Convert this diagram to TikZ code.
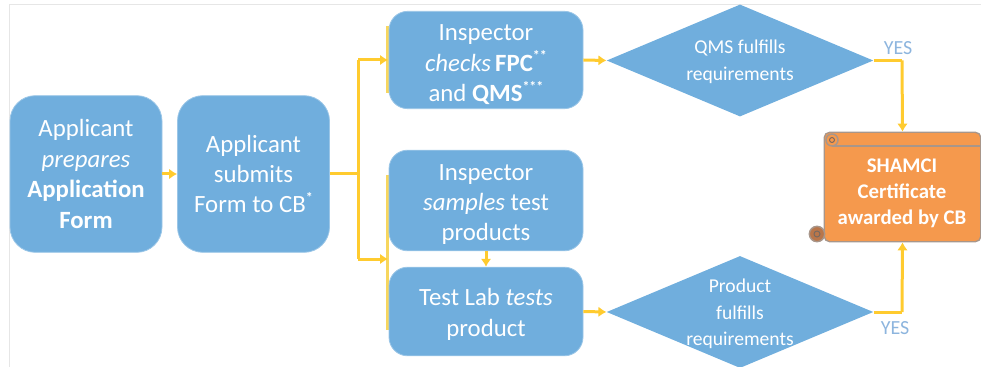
\documentclass[tikz,border=0pt]{standalone}
\usepackage{fontspec}
\setmainfont{Carlito}
\usetikzlibrary{shapes.geometric,arrows.meta}
\definecolor{boxblue}{HTML}{70AEDD}
\definecolor{flowyellow}{HTML}{FFCB2F}
\definecolor{baryellow}{HTML}{F7D65E}
\definecolor{certorange}{HTML}{F5994D}
\definecolor{certedge}{HTML}{A8968A}
\definecolor{curlfill}{HTML}{B9764A}
\definecolor{yesblue}{HTML}{8DB5DE}
\definecolor{framegrey}{HTML}{E6E6E6}
\newcommand{\stars}[1]{\raisebox{0.42em}{\fontsize{10.5}{10}\selectfont\textbf{#1}}}
\newcommand{\topgap}[1]{\rule{0pt}{#1}}
\tikzset{
  bluebox/.style={draw=boxblue!70!white,line width=0.6pt,fill=boxblue,text=white,align=center,inner sep=0pt,anchor=center,
    font=\fontsize{18.6}{22.8}\selectfont},
  bigbox/.style={bluebox,minimum width=114pt,minimum height=117.5pt,rounded corners=19pt},
  midbox/.style={bluebox,minimum width=145.5pt,rounded corners=14pt},
  decision/.style={diamond,aspect=2.37,fill=boxblue,inner sep=0pt,minimum width=200pt,minimum height=84pt},
  decisiontext/.style={text=white,align=center,inner sep=0pt,font=\fontsize{14.7}{20}\selectfont},
  flow/.style={flowyellow,line width=2.25pt,-{Latex[length=6pt,width=8pt]}},
  flowplain/.style={flowyellow,line width=2.25pt},
  bar/.style={baryellow,line width=2.2pt},
  yes/.style={text=yesblue,inner sep=0pt,font=\fontsize{15}{16}\selectfont},
  certlabel/.style={text=white,align=center,inner sep=0pt,font=\bfseries\fontsize{15.6}{19.5}\selectfont},
  curlring/.style={certedge!70!black,line width=0.7pt},
}
\begin{document}
\begin{tikzpicture}[x=0.75pt,y=-0.75pt]
\useasboundingbox (0,0) rectangle (981,367);
\draw[framegrey,line width=0.6pt] (9,4) -- (981,4);
\draw[framegrey,line width=0.6pt] (9,4) -- (9,367);
% junction points and bars
\coordinate (j) at (358,174);
\coordinate (jt) at (358,60);
\coordinate (jb) at (358,259);
\coordinate (lowin) at (388,259);
\coordinate (upin) at (388,60);
\coordinate (b1a) at (387.5,26);
\coordinate (b1b) at (387.5,93);
\coordinate (b2a) at (387.5,175);
\coordinate (b2b) at (387.5,330);
\coordinate (yt) at (902,60.5);
\coordinate (yb) at (902,312);
\draw[bar] (b1a) -- (b1b);
\draw[bar] (b2a) -- (b2b);
% boxes
\node[bigbox] (A) at (86,174) {Applicant\\\textit{prepares}\\\textbf{Application}\\\textbf{Form}};
\node[bigbox] (B) at (253.5,174) {Applicant\\submits\\Form to CB\stars{*}};
\node[midbox,minimum height=73pt] (C) at (486,60) {\topgap{19pt}Inspector\\\textit{checks}\,\textbf{FPC}\stars{**}\\and \textbf{QMS}\stars{***}};
\node[midbox,minimum height=75.5pt] (D) at (486,200.5) {\topgap{18pt}Inspector\\\textit{samples} test\\products};
\node[midbox,minimum height=66.5pt] (E) at (486,311.5) {\topgap{17pt}Test Lab \textit{tests}\\product};
% decisions
\node[decision] (Q) at (740,60.5) {};
\node[decisiontext] (Qtext) at (740,61.5) {QMS fulfills\\requirements};
\node[decision] (P) at (740,312) {};
\node[decisiontext] (Ptext) at (740,314) {Product\\fulfills\\requirements};
% certificate
\node[draw=certedge,line width=1pt,fill=certorange,rounded corners=4pt,inner sep=0pt,
  minimum width=117.5pt,minimum height=82pt] (cert) at (902.5,187) {};
\node[certlabel] (certtext) at (902,193) {SHAMCI\\Certificate\\awarded by CB};
\coordinate (certtopa) at (832,146);
\coordinate (certtopb) at (981,146);
\draw[certedge,line width=1.1pt] (certtopa) -- (certtopb);
\node[circle,draw=certedge,fill=certorange,line width=1.1pt,minimum size=9pt,inner sep=0pt] (curlt) at (832,140) {};
\node[circle,draw=certedge,fill=curlfill,line width=1.1pt,minimum size=11.5pt,inner sep=0pt] (curlb) at (817,234) {};
\draw[curlring] (curlt.center) circle[radius=2.5];
\draw[curlring] (curlb.center) circle[radius=3];
% connectors
\draw[flow] (A.east) -- (B.west);
\draw[flowplain] (B.east) -- (j);
\draw[flowplain] (jt) -- (jb);
\draw[flow] (jt) -- (upin);
\draw[flow] (jb) -- (lowin);
\draw[flow] (D.south) -- (E.north);
\draw[flow] (C.east) -- (Q.west);
\draw[flow] (E.east) -- (P.west);
\draw[flowplain] (Q.east) -- (yt);
\draw[flow] (yt) -- (cert.north);
\draw[flowplain] (P.east) -- (yb);
\draw[flow] (yb) -- (cert.south);
% labels
\node[yes] (yes1) at (898,48) {YES};
\node[yes] (yes2) at (895,328) {YES};
\end{tikzpicture}
\end{document}
